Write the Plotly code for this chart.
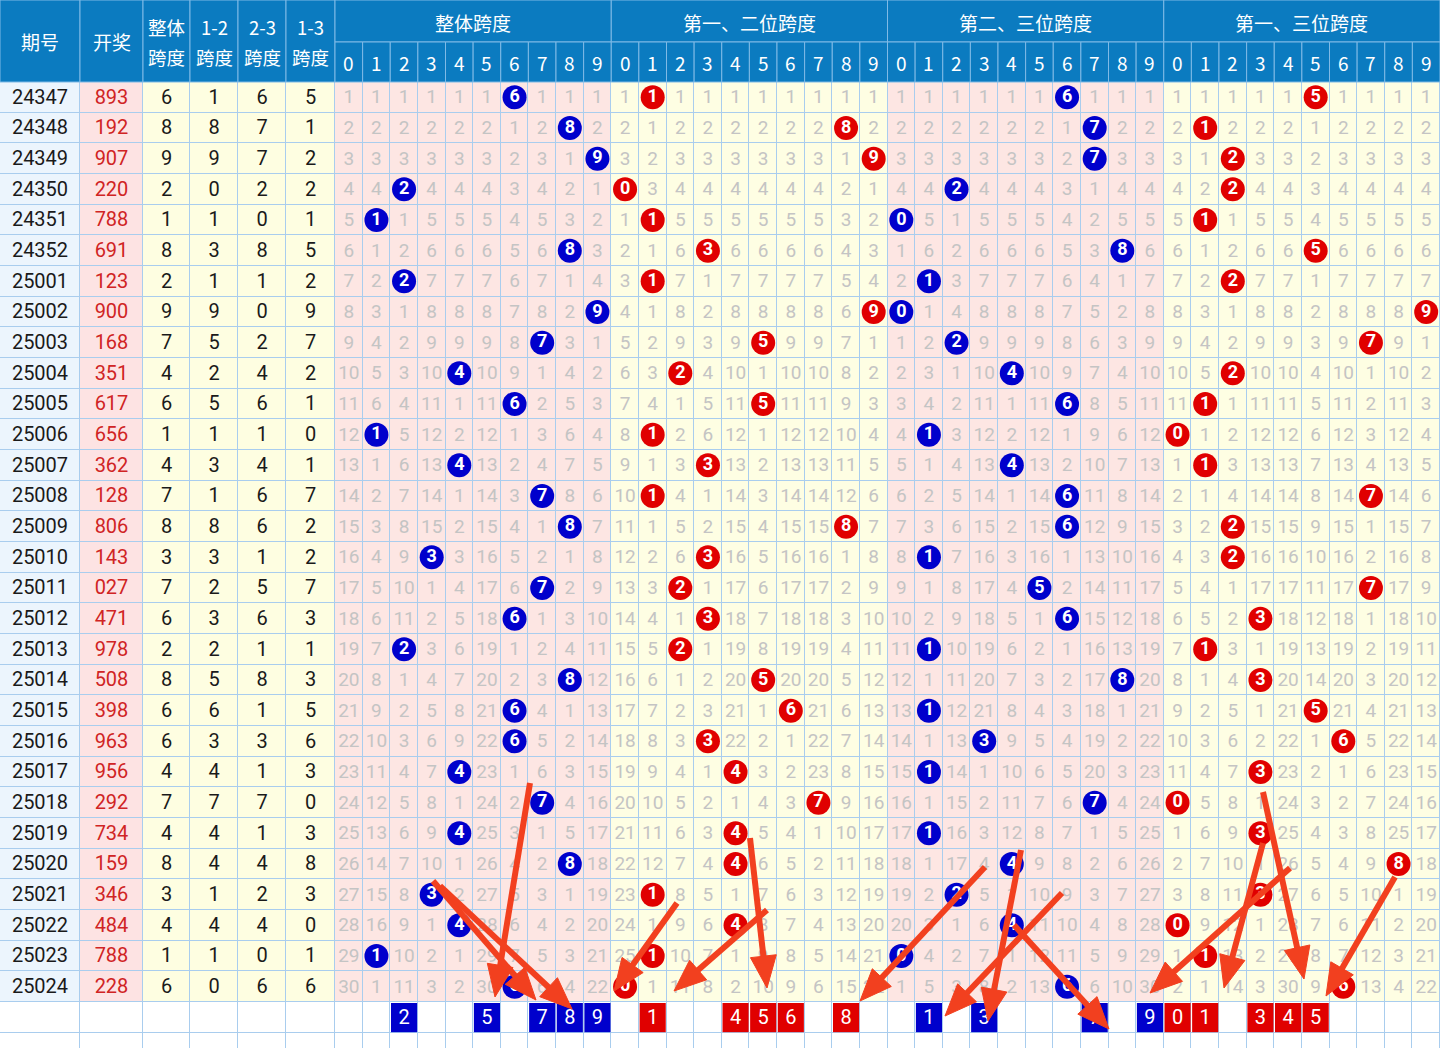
import plotly.graph_objects as go

# ---------------- data ----------------
issues = ["24347", "24348", "24349", "24350", "24351", "24352",
          "25001", "25002", "25003", "25004", "25005", "25006", "25007", "25008",
          "25009", "25010", "25011", "25012", "25013", "25014", "25015", "25016",
          "25017", "25018", "25019", "25020", "25021", "25022", "25023", "25024"]
draws = ["893", "192", "907", "220", "788", "691",
         "123", "900", "168", "351", "617", "656", "362", "128",
         "806", "143", "027", "471", "978", "508", "398", "963",
         "956", "292", "734", "159", "346", "484", "788", "228"]
span_all = [6, 8, 9, 2, 1, 8, 2, 9, 7, 4, 6, 1, 4, 7, 8, 3, 7, 6, 2, 8, 6, 6, 4, 7, 4, 8, 3, 4, 1, 6]
span_12 = [1, 8, 9, 0, 1, 3, 1, 9, 5, 2, 5, 1, 3, 1, 8, 3, 2, 3, 2, 5, 6, 3, 4, 7, 4, 4, 1, 4, 1, 0]
span_23 = [6, 7, 7, 2, 0, 8, 1, 0, 2, 4, 6, 1, 4, 6, 6, 1, 5, 6, 1, 8, 1, 3, 1, 7, 1, 4, 2, 4, 0, 6]
span_13 = [5, 1, 2, 2, 1, 5, 2, 9, 7, 2, 1, 0, 1, 7, 2, 2, 7, 3, 1, 3, 5, 6, 3, 0, 3, 8, 3, 0, 1, 6]

group_titles = ["整体跨度", "第一、二位跨度", "第二、三位跨度", "第一、三位跨度"]
left_headers = [["期号"], ["开奖"], ["整体", "跨度"], ["1-2", "跨度"], ["2-3", "跨度"], ["1-3", "跨度"]]
digit_labels = ["0", "1", "2", "3", "4", "5", "6", "7", "8", "9"]

pick_all = [2, 5, 7, 8, 9]
pick_12 = [1, 4, 5, 6, 8]
pick_23 = [1, 3, 7, 9]
pick_13 = [0, 1, 3, 4, 5]

# ---------------- layout geometry ----------------
W, H = 1440, 1048
left_edges = [0, 80, 143, 190, 238, 286, 335]
DW = (W - 335) / 40.0
col_edges = left_edges + [335 + DW * k for k in range(1, 41)]
col_cent = [(col_edges[i] + col_edges[i + 1]) / 2 for i in range(len(col_edges) - 1)]
HDR1, HDR2 = 42, 82
N = len(issues)
RH = (1002 - HDR2) / N
row_edges = [HDR2 + RH * i for i in range(N + 3)]
row_cent = [(row_edges[i] + row_edges[i + 1]) / 2 for i in range(len(row_edges) - 1)]
TY = 1.2  # small baseline nudge for text

C_GRID = "#a9cdee"
C_HDR = "#0b7bc0"
C_HDR_LINE = "#7fbae6"
BG = ["#ecf5fd", "#fde3e3", "#fefee1", "#fde6e3", "#fefee3", "#ffffff"]
C_OMIT = "#c4c4c4"
C_BLUE = "#0000cc"
C_RED = "#e00000"
C_ARROW = "#f2401f"
FONT_NUM = "Roboto, 'Noto Sans', sans-serif"
FONT_CJK = "'Noto Sans CJK SC', sans-serif"

fig = go.Figure()

# ---------------- background cells ----------------
group_bg = [3, 4, 3, 4]
z = []
for r in range(N + 2):
    row = []
    for c in range(46):
        if r >= N:
            row.append(5)
        elif c == 0:
            row.append(0)
        elif c == 1:
            row.append(1)
        elif c < 6:
            row.append(2)
        else:
            row.append(group_bg[(c - 6) // 10])
    z.append(row)
cs = [[0, BG[0]], [0.1, BG[0]], [0.1, BG[1]], [0.3, BG[1]], [0.3, BG[2]], [0.5, BG[2]],
      [0.5, BG[3]], [0.7, BG[3]], [0.7, BG[4]], [0.9, BG[4]], [0.9, BG[5]], [1, BG[5]]]
fig.add_trace(go.Heatmap(x=col_edges, y=row_edges, z=z, zmin=0, zmax=5, colorscale=cs,
                         showscale=False, xgap=1, ygap=1, hoverinfo="skip"))

# ---------------- left columns text ----------------
spans = [span_all, span_12, span_23, span_13]
yc = row_cent[:N]
yt = [y + TY for y in yc]
fig.add_trace(go.Scatter(x=[col_cent[0]] * N, y=yt, text=issues, mode="text",
                         textfont=dict(family=FONT_NUM, size=20, color="#1a1a1a"), hoverinfo="skip"))
fig.add_trace(go.Scatter(x=[col_cent[1]] * N, y=yt, text=draws, mode="text",
                         textfont=dict(family=FONT_NUM, size=20, color="#d02424"), hoverinfo="skip"))
for k in range(4):
    fig.add_trace(go.Scatter(x=[col_cent[2 + k]] * N, y=yt, text=[str(v) for v in spans[k]], mode="text",
                             textfont=dict(family=FONT_NUM, size=20, color="#1a1a1a"), hoverinfo="skip"))

# ---------------- omission values & hits ----------------
ox, oy, ot = [], [], []
hit_colors = [C_BLUE, C_RED, C_BLUE, C_RED]
for g in range(4):
    miss = [0] * 10
    hx, hy, ht = [], [], []
    for i in range(N):
        v = spans[g][i]
        for d in range(10):
            cx = col_cent[6 + 10 * g + d]
            if d == v:
                miss[d] = 0
                hx.append(cx); hy.append(yc[i]); ht.append(str(d))
            else:
                miss[d] += 1
                ox.append(cx); oy.append(yt[i]); ot.append(str(miss[d]))
    fig.add_trace(go.Scatter(x=hx, y=hy, text=ht, mode="markers+text", textposition="middle center",
                             marker=dict(size=24, color=hit_colors[g], line=dict(width=0)),
                             textfont=dict(family=FONT_NUM, size=18, color="white", weight="bold"),
                             hoverinfo="skip"))
fig.add_trace(go.Scatter(x=ox, y=oy, text=ot, mode="text",
                         textfont=dict(family=FONT_NUM, size=19, color=C_OMIT), hoverinfo="skip"))

# ---------------- bottom pick row ----------------
picks = [pick_all, pick_12, pick_23, pick_13]
yb0 = row_edges[N] + 1
for g in range(4):
    px = [col_cent[6 + 10 * g + d] for d in picks[g]]
    fig.add_trace(go.Bar(x=px, y=[RH - 1.5] * len(px), base=[yb0] * len(px), width=DW - 1.5,
                         marker=dict(color=hit_colors[g], line=dict(width=0)), hoverinfo="skip"))
    fig.add_trace(go.Scatter(x=px, y=[row_cent[N] + TY] * len(px), text=[str(d) for d in picks[g]],
                             mode="text", textfont=dict(family=FONT_NUM, size=20, color="white"),
                             hoverinfo="skip"))

# ---------------- header ----------------
shapes = []
annotations = []

def hdr_cell(x0, x1, y0, y1, lines, size, ys=None):
    shapes.append(dict(type="rect", xref="x", yref="y", x0=x0, x1=x1, y0=y0, y1=y1,
                       fillcolor=C_HDR, line=dict(color=C_HDR_LINE, width=1), layer="above"))
    if ys is None:
        ys = [(y0 + y1) / 2]
    for t, yy in zip(lines, ys):
        annotations.append(dict(x=(x0 + x1) / 2, y=yy, xref="x", yref="y",
                                text=t, showarrow=False,
                                font=dict(family=FONT_CJK, size=size, color="white"),
                                xanchor="center", yanchor="middle"))

for k in range(6):
    if len(left_headers[k]) == 1:
        hdr_cell(col_edges[k], col_edges[k + 1], 0, HDR2, left_headers[k], 19)
    else:
        hdr_cell(col_edges[k], col_edges[k + 1], 0, HDR2, left_headers[k], 18.5, ys=[27, 57])
for g in range(4):
    hdr_cell(col_edges[6 + 10 * g], col_edges[16 + 10 * g], 0, HDR1, [group_titles[g]], 19, ys=[22])
    for d in range(10):
        c = 6 + 10 * g + d
        hdr_cell(col_edges[c], col_edges[c + 1], HDR1, HDR2, [digit_labels[d]], 19, ys=[62])

# ---------------- hand-drawn red arrows (annotation overlay) ----------------
arrows = [
    (530, 783, 495, 997),
    (433, 881, 536, 1000),
    (440, 886, 572, 1009),
    (677, 903, 614, 991),
    (767, 910, 674, 991),
    (750, 838, 767, 988),
    (985, 867, 860, 1001),
    (1021, 850, 988, 1021),
    (1062, 893, 945, 1016),
    (1014, 925, 1109, 1029),
    (1290, 868, 1150, 993),
    (1263, 843, 1224, 988),
    (1263, 792, 1304, 979),
    (1395, 877, 1326, 996),
]
HL, HW = 32, 13
for (tx, ty, hx_, hy_) in arrows:
    dx, dy = hx_ - tx, hy_ - ty
    L = (dx * dx + dy * dy) ** 0.5
    ux, uy = dx / L, dy / L
    bx, by = hx_ - ux * HL, hy_ - uy * HL
    pxn, pyn = -uy, ux
    shapes.append(dict(type="line", xref="x", yref="y", x0=tx, y0=ty, x1=bx + ux * 3, y1=by + uy * 3,
                       line=dict(color=C_ARROW, width=6), layer="above"))
    shapes.append(dict(type="path", xref="x", yref="y",
                       path=f"M {hx_},{hy_} L {bx + pxn * HW},{by + pyn * HW} L {bx - pxn * HW},{by - pyn * HW} Z",
                       fillcolor=C_ARROW, line=dict(color=C_ARROW, width=1), layer="above"))

fig.update_layout(
    width=W, height=H, margin=dict(l=0, r=0, t=0, b=0),
    paper_bgcolor="white", plot_bgcolor=C_GRID,
    showlegend=False, barmode="overlay",
    xaxis=dict(range=[0, W], visible=False, fixedrange=True),
    yaxis=dict(range=[H, 0], visible=False, fixedrange=True),
    shapes=shapes, annotations=annotations,
)
fig.write_html("out.html", config={"displayModeBar": False},
               post_script="document.body.style.margin='0';document.body.style.overflow='hidden';")
